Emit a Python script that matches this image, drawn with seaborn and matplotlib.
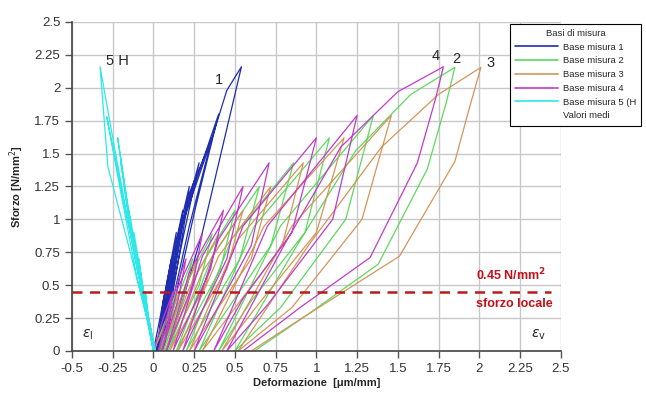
import pandas as pd
import matplotlib.pyplot as plt
import seaborn as sns
from matplotlib.lines import Line2D

# Base misura 1 (cicli carico / scarico)
b1_x = [0.00, 0.04, 0.07, 0.05, 0.02,
        0.06, 0.11, 0.08, 0.02,
        0.08, 0.14, 0.10, 0.03,
        0.10, 0.18, 0.13, 0.03,
        0.12, 0.22, 0.15, 0.04,
        0.14, 0.28, 0.18, 0.04,
        0.16, 0.36, 0.22, 0.05,
        0.18, 0.40, 0.26, 0.06,
        0.22, 0.36, 0.45, 0.54, 0.30, 0.16, 0.08]
b1_y = [0.00, 0.25, 0.45, 0.25, 0.00,
        0.38, 0.70, 0.40, 0.00,
        0.50, 0.90, 0.52, 0.00,
        0.60, 1.07, 0.65, 0.00,
        0.72, 1.25, 0.75, 0.00,
        0.80, 1.43, 0.85, 0.00,
        0.90, 1.62, 0.95, 0.00,
        1.00, 1.80, 1.10, 0.00,
        1.20, 1.62, 1.98, 2.16, 0.90, 0.30, 0.00]

# Base misura 2
b2_x = [0.00, 0.08, 0.14, 0.11, 0.03,
        0.13, 0.24, 0.18, 0.06,
        0.19, 0.36, 0.28, 0.09,
        0.27, 0.50, 0.41, 0.14,
        0.36, 0.65, 0.53, 0.20,
        0.48, 0.86, 0.72, 0.28,
        0.62, 1.08, 0.93, 0.60, 0.40,
        0.78, 1.35, 1.18, 0.78, 0.50,
        0.88, 1.24, 1.58, 1.85, 1.80, 1.68, 1.38, 0.95, 0.62]
b2_y = [0.00, 0.25, 0.45, 0.22, 0.00,
        0.35, 0.70, 0.38, 0.00,
        0.48, 0.89, 0.50, 0.00,
        0.60, 1.07, 0.62, 0.00,
        0.72, 1.25, 0.70, 0.00,
        0.85, 1.43, 0.80, 0.00,
        0.95, 1.62, 0.90, 0.38, 0.00,
        0.95, 1.79, 1.00, 0.33, 0.00,
        0.80, 1.52, 1.95, 2.155, 1.90, 1.38, 0.66, 0.28, 0.00]

# Base misura 3
b3_x = [0.00, 0.09, 0.16, 0.12, 0.04,
        0.15, 0.27, 0.21, 0.07,
        0.22, 0.40, 0.32, 0.10,
        0.30, 0.55, 0.45, 0.15,
        0.40, 0.72, 0.60, 0.22,
        0.52, 0.92, 0.79, 0.30,
        0.68, 1.17, 1.00, 0.66, 0.42,
        0.85, 1.46, 1.28, 0.85, 0.52,
        0.95, 1.40, 1.75, 2.01, 1.94, 1.85, 1.51, 0.90, 0.60]
b3_y = [0.00, 0.25, 0.45, 0.22, 0.00,
        0.35, 0.70, 0.38, 0.00,
        0.48, 0.89, 0.50, 0.00,
        0.60, 1.07, 0.62, 0.00,
        0.72, 1.25, 0.70, 0.00,
        0.85, 1.43, 0.80, 0.00,
        0.95, 1.62, 0.90, 0.38, 0.00,
        0.95, 1.79, 1.00, 0.33, 0.00,
        0.80, 1.55, 1.95, 2.155, 1.85, 1.44, 0.72, 0.24, 0.00]

# Base misura 4
b4_x = [0.00, 0.06, 0.12, 0.09, 0.03,
        0.10, 0.20, 0.15, 0.05,
        0.15, 0.30, 0.24, 0.08,
        0.22, 0.43, 0.35, 0.12,
        0.30, 0.55, 0.45, 0.18,
        0.40, 0.71, 0.60, 0.25,
        0.55, 1.00, 0.85, 0.55, 0.37,
        0.70, 1.25, 1.10, 0.70, 0.45,
        0.80, 1.15, 1.50, 1.78, 1.73, 1.62, 1.33, 0.90, 0.55]
b4_y = [0.00, 0.25, 0.45, 0.22, 0.00,
        0.35, 0.70, 0.38, 0.00,
        0.48, 0.89, 0.50, 0.00,
        0.60, 1.07, 0.62, 0.00,
        0.72, 1.25, 0.70, 0.00,
        0.85, 1.43, 0.80, 0.00,
        0.95, 1.62, 0.90, 0.40, 0.00,
        0.95, 1.79, 1.00, 0.35, 0.00,
        0.80, 1.55, 1.97, 2.16, 1.91, 1.43, 0.71, 0.33, 0.00]

# Base misura 5 (H) - deformazione laterale
b5_x = [0.00, -0.03, -0.05, -0.03, 0.00,
        -0.05, -0.09, -0.06, 0.00,
        -0.06, -0.12, -0.08, 0.00,
        -0.08, -0.15, -0.10, 0.01,
        -0.10, -0.18, -0.12, 0.01,
        -0.12, -0.20, -0.13, 0.01,
        -0.13, -0.22, -0.14, 0.01,
        -0.16, -0.287, -0.20, -0.10, 0.01,
        -0.14, -0.28, -0.328, -0.24, -0.12, 0.00]
b5_y = [0.00, 0.25, 0.45, 0.22, 0.00,
        0.35, 0.70, 0.38, 0.00,
        0.45, 0.90, 0.50, 0.00,
        0.55, 1.07, 0.62, 0.00,
        0.65, 1.25, 0.75, 0.00,
        0.78, 1.43, 0.85, 0.00,
        0.88, 1.62, 0.95, 0.00,
        1.00, 1.78, 1.20, 0.55, 0.00,
        0.74, 1.40, 2.16, 1.55, 0.75, 0.00]

basi = ['Base misura 1', 'Base misura 2', 'Base misura 3',
        'Base misura 4', 'Base misura 5 (H']
colori = ['#1f2db0', '#5fd85f', '#d4955a', '#c03cc8', '#2ee8e8']

ticks_x = [-0.5, -0.25, 0, 0.25, 0.5, 0.75, 1, 1.25, 1.5, 1.75, 2, 2.25, 2.5]
ticks_y = [0, 0.25, 0.5, 0.75, 1, 1.25, 1.5, 1.75, 2, 2.25, 2.5]
sforzo_locale = 0.45

frames = []
for nome, xs, ys in zip(basi, [b1_x, b2_x, b3_x, b4_x, b5_x],
                        [b1_y, b2_y, b3_y, b4_y, b5_y]):
    frames.append(pd.DataFrame({'x': xs, 'y': ys, 'base': nome}))
df = pd.concat(frames, ignore_index=True)

sns.set_style('whitegrid')
plt.rcParams['font.family'] = ['Liberation Sans', 'DejaVu Sans']
plt.rcParams['mathtext.fontset'] = 'dejavusans'

fig = plt.figure(figsize=(6.46, 3.97), dpi=100)
ax = fig.add_axes([0.1115, 0.116, 0.7565, 0.8286])

sns.lineplot(data=df, x='x', y='y', hue='base', palette=colori,
             sort=False, estimator=None, linewidth=0.9, legend=False, ax=ax)

ax.axhline(sforzo_locale, xmin=0, xmax=0.98, color='#b81c1c',
           linestyle=(0, (4, 3)), linewidth=1.8)

ax.set_xlim(-0.5, 2.5)
ax.set_ylim(0, 2.5)
ax.set_xticks(ticks_x)
ax.set_yticks(ticks_y)
ax.set_xticklabels([f'{t:g}' for t in ticks_x])
ax.set_yticklabels([f'{t:g}' for t in ticks_y])
ax.tick_params(axis='both', which='major', length=5, width=1, color='#555555',
               labelsize=9.5, labelcolor='#333333', direction='out',
               left=True, bottom=True)
ax.grid(True, color='#c8c8c8', linewidth=1)
for s in ['top', 'right']:
    ax.spines[s].set_visible(False)
for s in ['left', 'bottom']:
    ax.spines[s].set_color('#444444')
    ax.spines[s].set_linewidth(1.2)

ax.set_xlabel('Deformazione  [μm/mm]', fontsize=8, fontweight='bold', labelpad=2)
ax.set_ylabel('Sforzo [N/mm$^2$]', fontsize=8, fontweight='bold', labelpad=6)

# etichette delle basi
ax.text(-0.22, 2.2, '5 H', fontsize=10.5, ha='center', va='center')
ax.text(0.40, 2.06, '1', fontsize=10.5, ha='center', va='center')
ax.text(1.73, 2.24, '4', fontsize=10.5, ha='center', va='center')
ax.text(1.86, 2.22, '2', fontsize=10.5, ha='center', va='center')
ax.text(2.07, 2.19, '3', fontsize=10.5, ha='center', va='center')

ax.text(1.98, 0.58, '0.45 N/mm$^\\mathbf{2}$', color='#c0101a', fontsize=9,
        fontweight='bold', ha='left', va='center')
ax.text(1.98, 0.36, 'sforzo locale', color='#c0101a', fontsize=9,
        fontweight='bold', ha='left', va='center')
ax.text(-0.44, 0.12, '$\\varepsilon_\\mathrm{l}$', fontsize=10, ha='left', va='center')
ax.text(2.32, 0.12, '$\\varepsilon_\\mathrm{v}$', fontsize=10, ha='left', va='center')

handles = [Line2D([], [], color=c, linewidth=1.2) for c in colori]
handles.append(Line2D([], [], color='white', linewidth=1.2))
labels = basi + ['Valori medi']
leg = fig.legend(handles, labels, title='Basi di misura', loc='upper right',
                 bbox_to_anchor=(0.993, 0.94), fontsize=6.8, title_fontsize=6.8,
                 frameon=True, fancybox=False, edgecolor='black', framealpha=1,
                 handlelength=4.6, handletextpad=0.5, labelspacing=0.5,
                 borderpad=0.55, borderaxespad=0)
leg.get_frame().set_linewidth(0.8)

plt.savefig('out.png', dpi=100)
